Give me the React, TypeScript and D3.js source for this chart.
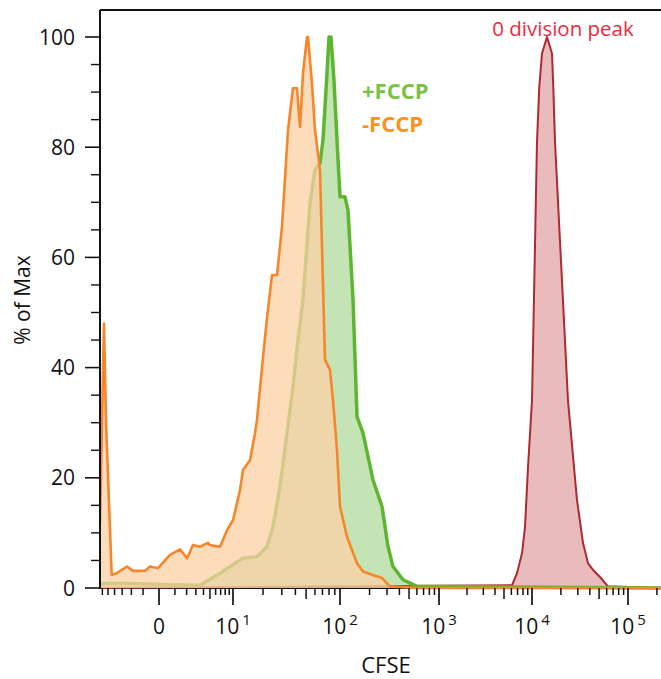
import * as d3 from "d3";

// FlowJo-like logicle axis, approximated with symlog + piecewise decades
const C = 2.3;
const T = (v: number) => Math.sign(v) * Math.log1p(Math.abs(v) / C);

const xDecades = [0, 10, 100, 1000, 10000, 100000];
const xDecadeExp = [null, 1, 2, 3, 4, 5];
const yMajorTicks = [0, 20, 40, 60, 80, 100];
const yMinorTicks = [5, 10, 15, 25, 30, 35, 45, 50, 55, 65, 70, 75, 85, 90, 95];

// [CFSE, % of Max]
const minusFccp: [number, number][] = [
  [-6.46, 12], [-5.7, 48], [-5.34, 30], [-4.42, 2.4], [-3.66, 2.7], [-2.45, 3.9],
  [-1.84, 3.1], [-0.86, 3.1], [-0.52, 3.9], [-0.05, 3.6], [0.65, 6.0], [1.4, 7.0],
  [2.04, 5.4], [2.67, 7.8], [3.52, 7.5], [4.68, 8.2], [5.0, 7.8], [6.86, 7.5],
  [8.44, 10.5], [10, 12.3], [11.83, 17.8], [12.69, 21.4], [14.92, 23.2], [16.71, 28.1],
  [17.48, 30.5], [19.54, 40], [21.81, 49], [24.32, 56.8], [27.09, 56.8], [30.15, 65.6],
  [34.24, 83.1], [38.05, 90.7], [41.37, 90.7], [44.05, 83.7], [46.89, 93.4], [50.94, 100],
  [52.0, 100], [56.47, 91.6], [60.07, 83.1], [66.56, 75.9], [70.77, 55], [73.72, 41.4],
  [81.63, 39.6], [86.76, 34.1], [94.1, 25], [100, 14.8], [117.9, 9.3], [149.1, 4.5],
  [171.6, 3.0], [211.6, 2.4], [267.1, 1.8], [321.6, 0.3], [601.2, 0], [220000, 0],
];

const plusFccp: [number, number][] = [
  [-6.46, 0.8], [-1.84, 0.8], [0.65, 0.6], [3.52, 0.5], [6.86, 2.7], [9.19, 3.9],
  [12.69, 5.4], [17.48, 5.7], [21.81, 7.5], [24.85, 11.1], [28.89, 18.4], [33.53, 28.1],
  [38.05, 36.5], [42.25, 45], [46.89, 52.3], [54.19, 69.9], [60.07, 75.9], [66.56, 77.1],
  [70.77, 81.3], [76.79, 93.4], [79.99, 100], [83.3, 100], [88.55, 92], [94.1, 81.3],
  [100, 71], [112.5, 71], [120.7, 68.6], [135.8, 52.3], [149.1, 31.1], [171.6, 28.1],
  [216.6, 19.6], [267.1, 14.8], [307.1, 7.5], [344.8, 3.9], [434.9, 1.5], [601.2, 0.3],
  [220000, 0],
];

const zeroDivision: [number, number][] = [
  [-6.46, 0], [6100, 0.5], [6905, 2.7], [7810, 6.3], [8414, 11.1], [9062, 22],
  [10000, 34], [11274, 81], [11913, 91], [12710, 97], [14329, 100], [16153, 97],
  [16662, 91], [17358, 81], [23704, 34], [29413, 16], [33960, 8.2], [38286, 4.5],
  [43164, 3.3], [51050, 2.0], [61854, 0.3], [220000, 0],
];

const W = 661;
const H = 679;
const left = 100;
const top = 10;
const bottom = 588;
const font = "'Open Sans', sans-serif";

const xT = d3.scaleLinear().domain(xDecades.map(T)).range([159, 233, 340, 439, 532, 628]);
const x = (v: number) => xT(T(v));
const y = d3.scaleLinear().domain([0, 100]).range([bottom, 37]);

const area = d3.area<[number, number]>().x(d => x(d[0])).y0(y(0)).y1(d => y(d[1]));
const line = d3.line<[number, number]>().x(d => x(d[0])).y(d => y(d[1]));

const minorX: number[] = [];
const midX: number[] = [];
for (let k = 1; k <= 6; k++) minorX.push(-k);
xDecades.forEach((dec, i) => {
  if (i === xDecades.length - 1) return;
  const base = dec === 0 ? 1 : dec;
  for (let k = dec === 0 ? 1 : 2; k <= 9; k++) {
    if (k === 5) midX.push(k * base);
    else minorX.push(k * base);
  }
});
minorX.push(200000);

const series = [
  { data: zeroDivision, fill: "rgba(190,50,55,0.33)", stroke: "#ac2a30", width: 2 },
  { data: plusFccp, fill: "rgba(93,181,53,0.36)", stroke: "#5cb632", width: 3.5 },
  { data: minusFccp, fill: "rgba(252,208,165,0.75)", stroke: "#f5862b", width: 2.6 },
];

export default function App() {
  return (
    <svg width={W} height={H} style={{ position: "absolute", left: 0, top: 0, background: "#fff" }}>
      <defs>
        <clipPath id="plot">
          <rect x={left} y={top} width={W - left} height={bottom - top + 2} />
        </clipPath>
      </defs>
      <line x1={left} x2={W} y1={bottom} y2={bottom} stroke="#111" strokeWidth={2} />
      <g clipPath="url(#plot)">
        {series.map((s, i) => (
          <g key={i}>
            <path d={area(s.data) ?? ""} fill={s.fill} />
            <path d={line(s.data) ?? ""} fill="none" stroke={s.stroke} strokeWidth={s.width} strokeLinejoin="round" />
          </g>
        ))}
      </g>
      <line x1={left} x2={W} y1={top} y2={top} stroke="#111" strokeWidth={2} />
      <line x1={left} x2={left} y1={top} y2={bottom + 1} stroke="#111" strokeWidth={2} />
      {yMajorTicks.map(t => (
        <g key={"ym" + t}>
          <line x1={85} x2={left} y1={y(t)} y2={y(t)} stroke="#111" strokeWidth={1.6} />
          <text x={75} y={y(t)} dy="0.36em" textAnchor="end" fontFamily={font} fontSize={21} fill="#111">{t}</text>
        </g>
      ))}
      {yMinorTicks.map(t => (
        <line key={"yn" + t} x1={91} x2={left} y1={y(t)} y2={y(t)} stroke="#111" strokeWidth={1.4} />
      ))}
      {minorX.map(v => (
        <line key={"xn" + v} x1={x(v)} x2={x(v)} y1={bottom} y2={bottom + 7} stroke="#111" strokeWidth={1.5} />
      ))}
      {midX.map(v => (
        <line key={"xm" + v} x1={x(v)} x2={x(v)} y1={bottom} y2={bottom + 11} stroke="#111" strokeWidth={1.5} />
      ))}
      {xDecades.map((v, i) => (
        <g key={"xd" + v}>
          <line x1={x(v)} x2={x(v)} y1={bottom} y2={bottom + 17} stroke="#111" strokeWidth={1.7} />
          <text x={x(v)} y={634} textAnchor="middle" fontFamily={font} fontSize={21} fill="#111">
            {xDecadeExp[i] === null ? "0" : (
              <>
                10<tspan dx={3} dy={-9} fontSize={15}>{xDecadeExp[i]}</tspan>
              </>
            )}
          </text>
        </g>
      ))}
      <text x={386} y={673} textAnchor="middle" fontFamily={font} fontSize={22} fill="#111">CFSE</text>
      <text transform="translate(30,300) rotate(-90)" textAnchor="middle" fontFamily={font} fontSize={21} fill="#111">% of Max</text>
      <text x={362} y={99} fontFamily={font} fontSize={22} fontWeight="bold" fill="#7bc143">+FCCP</text>
      <text x={362} y={132} fontFamily={font} fontSize={22} fontWeight="bold" fill="#f7931e">-FCCP</text>
      <text x={563} y={36} textAnchor="middle" fontFamily={font} fontSize={20.5} fill="#ee2a3e">0 division peak</text>
    </svg>
  );
}
